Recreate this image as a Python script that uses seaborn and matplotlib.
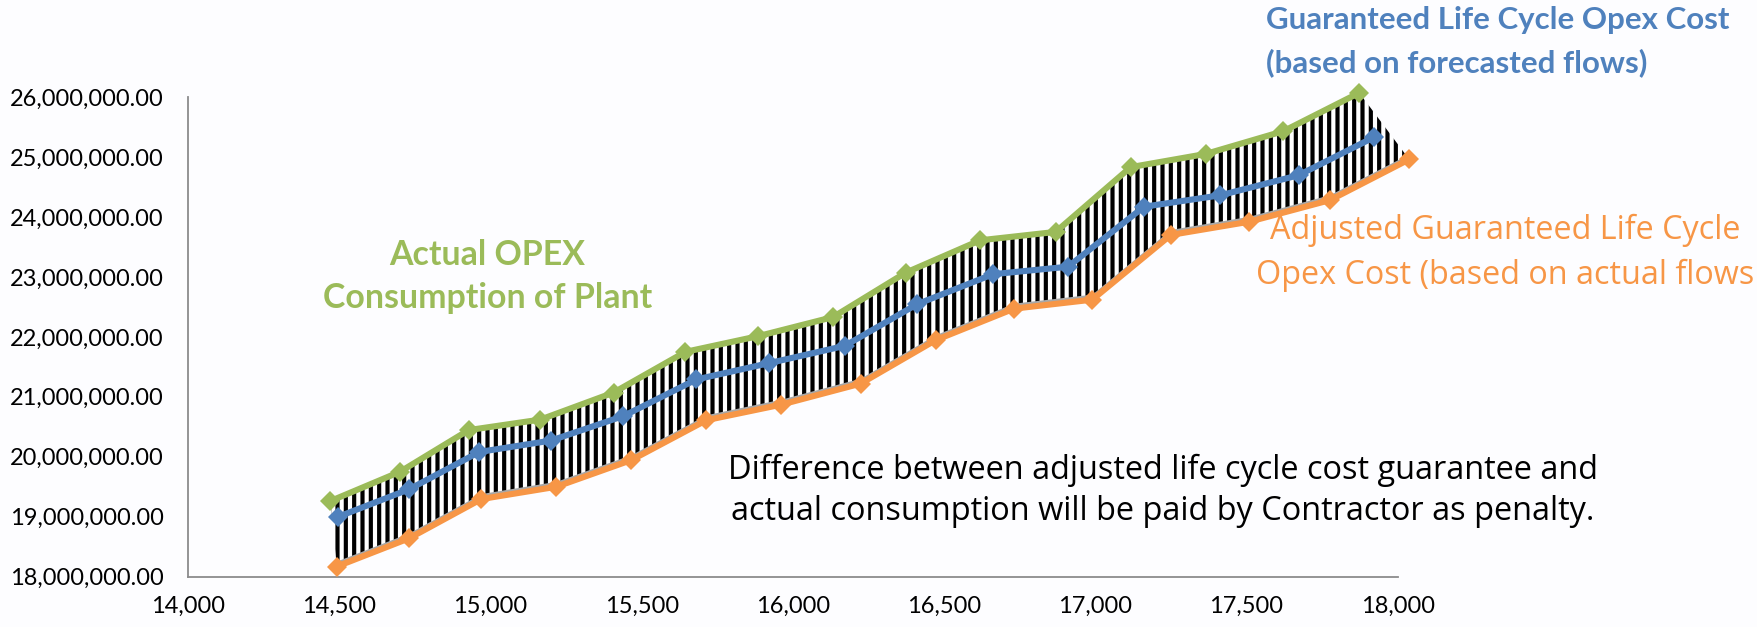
import numpy as np
import pandas as pd
import matplotlib
matplotlib.use("Agg")
import matplotlib.pyplot as plt
import matplotlib.transforms as mtransforms
from matplotlib.ticker import FuncFormatter, MultipleLocator
import seaborn as sns

# values (cost in millions)
actual_x = [14470, 14701, 14928, 15165, 15407, 15645, 15884, 16133,
            16373, 16619, 16869, 17117, 17365, 17622, 17873]
actual_y = [19.26, 19.75, 20.445, 20.62, 21.07, 21.75, 22.01, 22.33,
            23.07, 23.61, 23.75, 24.83, 25.05, 25.43, 26.07]

guaranteed_x = [14497, 14732, 14963, 15200, 15440, 15681, 15920, 16172,
                16411, 16662, 16910, 17161, 17413, 17672, 17922]
guaranteed_y = [19.0, 19.46, 20.08, 20.27, 20.68, 21.29, 21.56, 21.85,
                22.545, 23.045, 23.17, 24.17, 24.36, 24.695, 25.33]

adjusted_x = [14492, 14731, 14970, 15218, 15466, 15714, 15962, 16224,
              16472, 16731, 16990, 17250, 17509, 17776, 18038]
adjusted_y = [18.17, 18.64, 19.295, 19.5, 19.945, 20.61, 20.87, 21.22,
              21.945, 22.47, 22.62, 23.7, 23.92, 24.28, 24.96]

series_names = ["actual", "guaranteed", "adjusted"]
colors = {"actual": "#9BBB59", "guaranteed": "#4F81BD", "adjusted": "#F79646"}

actual_label = ["Actual OPEX", "Consumption of Plant"]
guaranteed_label = ["Guaranteed Life Cycle Opex Cost", "(based on forecasted flows)"]
adjusted_label = ["Adjusted Guaranteed Life Cycle", "Opex Cost (based on actual flows"]
penalty_note = ["Difference between adjusted life cycle cost guarantee and",
                "actual consumption will be paid by Contractor as penalty."]

df = pd.concat([
    pd.DataFrame({"flow": actual_x, "cost": np.array(actual_y) * 1e6, "series": "actual"}),
    pd.DataFrame({"flow": guaranteed_x, "cost": np.array(guaranteed_y) * 1e6, "series": "guaranteed"}),
    pd.DataFrame({"flow": adjusted_x, "cost": np.array(adjusted_y) * 1e6, "series": "adjusted"}),
], ignore_index=True)

sns.set_theme(style="white")
plt.rcParams["font.family"] = ["Lato", "DejaVu Sans"]
plt.rcParams["hatch.linewidth"] = 3.0

W, H = 1758, 627
fig = plt.figure(figsize=(W / 100, H / 100), dpi=100)
fig.patch.set_facecolor("#FDFDFF")
ax = fig.add_axes([188 / W, 50.3 / H, (1397.7 - 188) / W, (576.7 - 97) / H])
ax.set_facecolor("none")

# hatched band between actual and adjusted lines
band_x = np.concatenate([actual_x, adjusted_x[::-1]])
band_y = np.concatenate([actual_y, adjusted_y[::-1]]) * 1e6
ax.fill(band_x, band_y, facecolor="white", edgecolor="black",
        hatch="||", linewidth=0, clip_on=False, zorder=1)

# soft grey shadow under the lower edge of the band
shadow = mtransforms.offset_copy(ax.transData, fig=fig, x=1, y=3, units="dots")
ax.plot(adjusted_x, np.array(adjusted_y) * 1e6, color="#a8a8a8", linewidth=3,
        transform=shadow, clip_on=False, zorder=2)

sns.lineplot(data=df, x="flow", y="cost", hue="series", hue_order=series_names,
             palette=colors, marker="D", markersize=10.5, markeredgewidth=0,
             linewidth=4.4, sort=False, legend=False, clip_on=False, ax=ax, zorder=3)

ax.set_xlim(14000, 18000)
ax.set_ylim(18e6, 26e6)
ax.xaxis.set_major_locator(MultipleLocator(500))
ax.yaxis.set_major_locator(MultipleLocator(1e6))
ax.xaxis.set_major_formatter(FuncFormatter(lambda v, p: f"{v:,.0f}"))
ax.yaxis.set_major_formatter(FuncFormatter(lambda v, p: f"{v:,.2f}"))
ax.set_xlabel("")
ax.set_ylabel("")
for s in ["top", "right"]:
    ax.spines[s].set_visible(False)
for s in ["left", "bottom"]:
    ax.spines[s].set_color("#8c8c8c")
    ax.spines[s].set_linewidth(1.3)
ax.tick_params(axis="both", direction="out", length=6.5, width=1.3,
               color="#8c8c8c", labelsize=17, labelcolor="black")
ax.tick_params(axis="y", pad=11)
ax.tick_params(axis="x", pad=7)
ax.grid(False)

renderer = fig.canvas.get_renderer()


def text_block(lines, x, ys, width, ha, **kw):
    # size the block so its widest line spans `width` pixels, one text per line
    probes = [fig.text(0, 0, ln, fontsize=20, **kw) for ln in lines]
    widest = max(t.get_window_extent(renderer).width for t in probes)
    for t in probes:
        t.remove()
    size = 20 * width / widest
    for ln, y in zip(lines, ys):
        fig.text(x / W, 1 - y / H, ln, fontsize=size, ha=ha, va="center", **kw)


text_block(actual_label, 487.5, [255, 298], 329, "center",
           color="#9BBB59", fontweight="bold")
text_block(guaranteed_label, 1266, [20, 63], 464, "left",
           color="#4F81BD", fontweight="bold")
text_block(adjusted_label, 1505, [230, 275], 498, "center",
           color="#F79646", family=["Open Sans", "DejaVu Sans"])
text_block(penalty_note, 1163, [470, 512], 870, "center",
           color="black", family=["Open Sans", "DejaVu Sans"])

fig.savefig("out.png", dpi=100, facecolor=fig.get_facecolor())
